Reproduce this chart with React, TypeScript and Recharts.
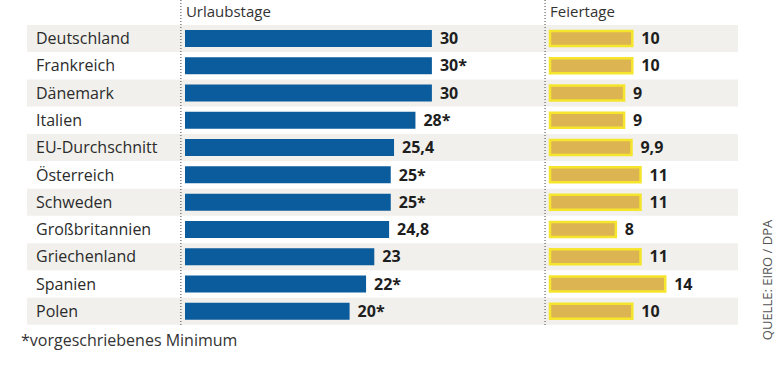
import React from 'react';
import { BarChart, Bar, XAxis, YAxis, Cell, LabelList, ReferenceLine } from 'recharts';

const countries = [
  'Deutschland',
  'Frankreich',
  'Dänemark',
  'Italien',
  'EU-Durchschnitt',
  'Österreich',
  'Schweden',
  'Großbritannien',
  'Griechenland',
  'Spanien',
  'Polen',
];
const vacationDays = [30, 30, 30, 28, 25.4, 25, 25, 24.8, 23, 22, 20];
// true = "vorgeschriebenes Minimum" (marked with *)
const statutoryMinimum = [false, true, false, true, false, true, true, false, false, true, true];
const publicHolidays = [10, 10, 9, 9, 9.9, 11, 11, 8, 11, 14, 10];

const fmt = (v: number) => String(v).replace('.', ',');

const data = countries.map((name, i) => ({
  name,
  band: 1,
  urlaub: vacationDays[i],
  urlaubLabel: fmt(vacationDays[i]) + (statutoryMinimum[i] ? '*' : ''),
  feiertage: publicHolidays[i],
  feiertageLabel: fmt(publicHolidays[i]),
}));

// both panels share one day scale; each panel has its own zero point
const PLOT_W = 711;
const PX_PER_DAY = 8.23;
const BLUE_ZERO = 158;
const GOLD_ZERO = 523;
const blueDomain = [-BLUE_ZERO / PX_PER_DAY, (PLOT_W - BLUE_ZERO) / PX_PER_DAY];
const goldDomain = [-GOLD_ZERO / PX_PER_DAY, (PLOT_W - GOLD_ZERO) / PX_PER_DAY];

const valueStyle = { fontSize: 16, fontWeight: 700, fill: '#1e1e1e' };

const divider = (title: string) => (props: any) => {
  const bottom = Math.max(props.y1, props.y2) + 1;
  return (
    <g>
      <line x1={props.x1} x2={props.x2} y1={0} y2={bottom} stroke="#444" strokeWidth={1} strokeDasharray="1 2" />
      <text x={props.x1 + 5} y={17} fontSize={15} fill="#333">
        {title}
      </text>
    </g>
  );
};

const App = () => (
  <div
    style={{
      position: 'absolute',
      left: 0,
      top: 0,
      width: 780,
      height: 379,
      background: '#fff',
      fontFamily: '"Open Sans", sans-serif',
    }}
  >
    <BarChart
      width={780}
      height={379}
      data={data}
      layout="vertical"
      margin={{ top: 25, right: 42, bottom: 54, left: 27 }}
      barCategoryGap={0}
    >
      <YAxis yAxisId="rows" type="category" dataKey="name" hide />
      <YAxis yAxisId="blueY" type="category" dataKey="name" hide />
      <YAxis yAxisId="goldY" type="category" dataKey="name" hide />
      <XAxis xAxisId="bg" type="number" domain={[0, 1]} hide allowDataOverflow />
      <XAxis xAxisId="blue" type="number" domain={blueDomain} hide allowDataOverflow />
      <XAxis xAxisId="gold" type="number" domain={goldDomain} hide allowDataOverflow />

      <Bar dataKey="band" xAxisId="bg" yAxisId="rows" isAnimationActive={false}>
        {data.map((d, i) => (
          <Cell key={d.name} fill={i % 2 === 0 ? '#f1f0ec' : 'transparent'} />
        ))}
        <LabelList dataKey="name" position="insideLeft" offset={9} fontSize={16} fill="#2b2b2b" />
      </Bar>

      <Bar dataKey="urlaub" xAxisId="blue" yAxisId="blueY" barSize={17} fill="#0b5c9c" isAnimationActive={false}>
        <LabelList dataKey="urlaubLabel" position="right" offset={8} {...valueStyle} />
      </Bar>

      <Bar
        dataKey="feiertage"
        xAxisId="gold"
        yAxisId="goldY"
        barSize={15}
        fill="#dcb452"
        stroke="#f5e52c"
        strokeWidth={2.5}
        isAnimationActive={false}
      >
        <LabelList dataKey="feiertageLabel" position="right" offset={9} {...valueStyle} />
      </Bar>

      <ReferenceLine x={-0.5} xAxisId="blue" yAxisId="blueY" shape={divider('Urlaubstage')} />
      <ReferenceLine x={-0.6} xAxisId="gold" yAxisId="goldY" shape={divider('Feiertage')} />
    </BarChart>

    <div style={{ position: 'absolute', left: 21, top: 330, fontSize: 16, lineHeight: '20px', color: '#333' }}>
      *vorgeschriebenes Minimum
    </div>
    <div
      style={{
        position: 'absolute',
        left: 767,
        top: 280,
        transform: 'translate(-50%, -50%) rotate(-90deg)',
        whiteSpace: 'nowrap',
        fontSize: 13,
        color: '#555',
      }}
    >
      QUELLE: EIRO / DPA
    </div>
  </div>
);

export default App;
